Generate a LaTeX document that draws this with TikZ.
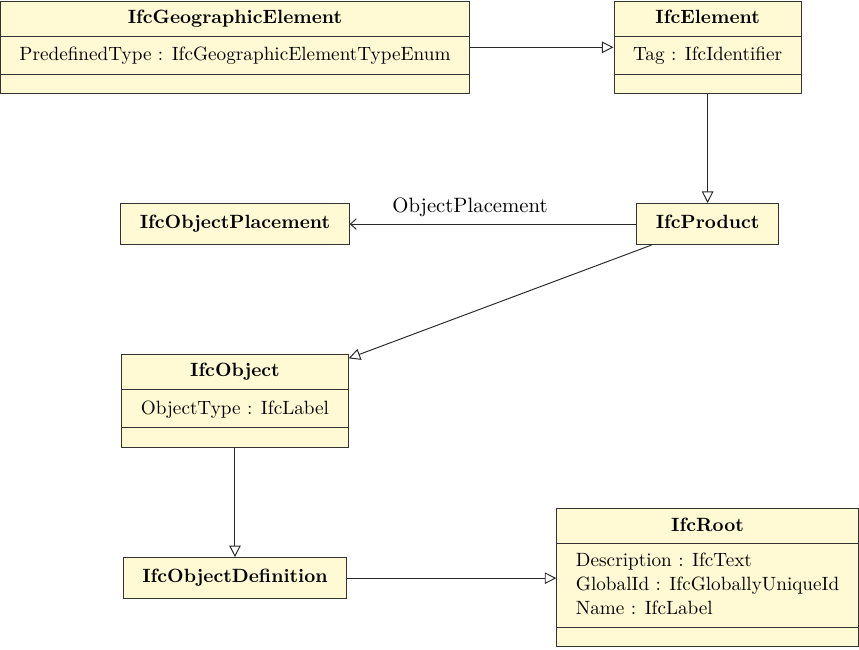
\documentclass[tikz,border=0pt]{standalone}
\usepackage{xcolor}
\definecolor{ifcyellow}{RGB}{255, 250, 212}
\definecolor{ifcborder}{RGB}{51,  51,  51}
\definecolor{ifcline}{RGB}{40,  40,  40}
\usetikzlibrary{shapes.multipart, arrows.meta}
% struts for the class compartments
\newcommand{\ifchead}{\rule[-3.75pt]{0pt}{12.5pt}}
\newcommand{\ifcstrut}{\rule[-4pt]{0pt}{14pt}}
\tikzset{
  % --- CLASSES ---
  ifc-class/.style={
    rectangle split,
    rectangle split parts=3,
    rectangle split ignore empty parts=false,
    fill=ifcyellow,
    draw=ifcborder,
    line width=0.5pt,
    inner xsep=10pt,
    inner ysep=2.65pt
  },
  ifc-simple/.style={
    fill=ifcyellow,
    draw=ifcborder,
    line width=0.5pt,
    inner xsep=10pt,
    inner ysep=4.7pt,
    font=\bfseries
  },
  % --- ARROWS ---
  gen-arrw/.style={
    draw=ifcline,
    line width=0.5pt,
    -{Triangle[open, length=6pt, width=6pt]}
  },
  assoc-arrw/.style={
    draw=ifcline,
    line width=0.5pt,
    -{Straight Barb[length=3pt, width=5.5pt]}
  },
  assoc-label/.style={
    font=\fontsize{10.8pt}{13pt}\selectfont
  },
}

\begin{document}
\begin{tikzpicture}

  \useasboundingbox (0, 0) rectangle (15.72, -11.88);

  % --- top row
  \node[ifc-class, anchor=north] (geo) at (4.30, -0.01)
    {\ifchead\textbf{IfcGeographicElement}
     \nodepart{second}\ifcstrut PredefinedType : IfcGeographicElementTypeEnum
     \nodepart{third}};
  \node[ifc-class, anchor=north] (element) at (12.95, -0.01)
    {\ifchead\textbf{IfcElement}
     \nodepart{second}\ifcstrut Tag : IfcIdentifier
     \nodepart{third}};
  % --- middle row
  \node[ifc-simple] (placement) at (4.30, -4.10) {\strut IfcObjectPlacement};
  \node[ifc-simple] (product)   at (12.95, -4.10) {\strut IfcProduct};
  \node[ifc-class, anchor=north] (object) at (4.30, -6.48)
    {\ifchead\textbf{IfcObject}
     \nodepart{second}\ifcstrut ObjectType : IfcLabel
     \nodepart{third}};
  % --- bottom row
  \node[ifc-simple] (objdef) at (4.30, -10.58) {\strut IfcObjectDefinition};
  \node[ifc-class, anchor=north] (root) at (12.95, -9.30)
    {\ifchead\textbf{IfcRoot}
     \nodepart{second}\def\arraystretch{1.05}\begin{tabular}{@{}l@{}}
       Description : IfcText\\
       GlobalId : IfcGloballyUniqueId\\
       Name : IfcLabel
     \end{tabular}
     \nodepart{third}};
  % --- inheritance
  \draw[gen-arrw] (geo) -- (element);
  \draw[gen-arrw] (element) -- (product);
  \draw[gen-arrw] (product) -- (object);
  \draw[gen-arrw] (object) -- (objdef);
  \draw[gen-arrw] (objdef.east) -- (objdef.east -| root.west);
  % --- association
  \draw[assoc-arrw] (product) -- node[assoc-label, above, pos=0.58] {ObjectPlacement} (placement);

\end{tikzpicture}
\end{document}
